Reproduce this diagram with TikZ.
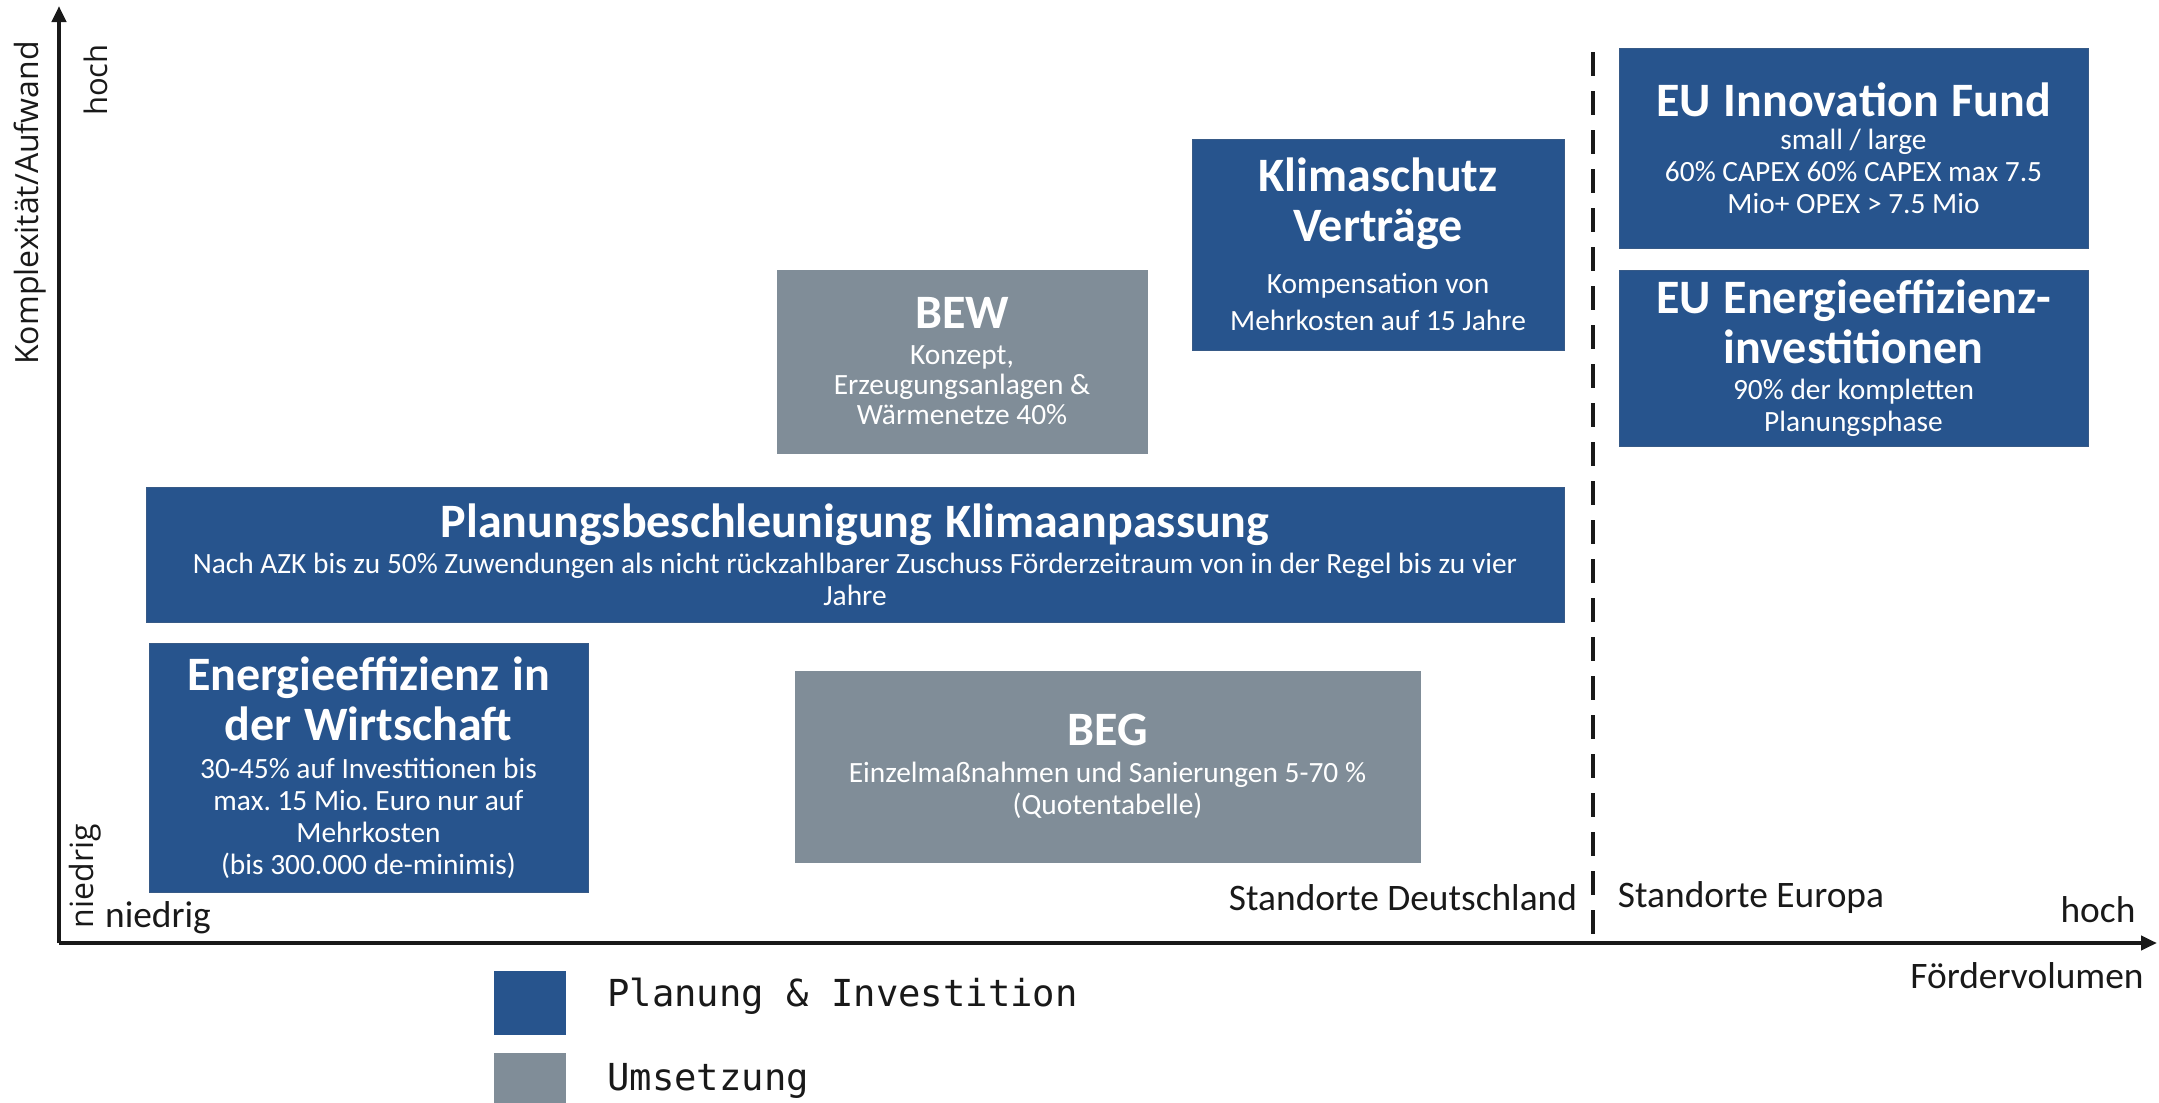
\documentclass[tikz,border=0pt]{standalone}
\usepackage{fontspec}
\setmainfont{Carlito}
\newfontfamily\axisfont{Open Sans}
\newfontfamily\legfont{DejaVu Sans Mono}
\usetikzlibrary{arrows.meta}
\definecolor{boxblue}{RGB}{39,84,141}
\definecolor{boxblueedge}{RGB}{55,90,135}
\definecolor{boxgray}{RGB}{128,141,152}
\definecolor{axisblack}{RGB}{25,25,25}
\frenchspacing
\newcommand\ttl{\fontsize{24}{25}\selectfont\bfseries\spaceskip=0.27em\relax\lineskiplimit=-100pt\relax}
\newcommand\bdy{\normalfont\fontsize{14.7}{16}\selectfont\spaceskip=\fontdimen2\font\relax\lineskiplimit=-100pt\relax}
\newcommand\bdyl{\normalfont\fontsize{14.7}{18.6}\selectfont\spaceskip=\fontdimen2\font\relax\lineskiplimit=-100pt\relax}
\newcommand\bdys{\normalfont\fontsize{14.7}{15}\selectfont\spaceskip=\fontdimen2\font\relax\lineskiplimit=-100pt\relax}
\tikzset{
  box/.style={rectangle, inner sep=0pt, align=center, text=white, line width=0.5pt},
  bluebox/.style={box, fill=boxblue, draw=boxblueedge},
  graybox/.style={box, fill=boxgray, draw=boxgray},
  axisline/.style={draw=axisblack, line width=2pt, -{Triangle[length=8pt,width=7pt]}},
  sepline/.style={draw=axisblack, line width=2.2pt, dash pattern=on 12pt off 7.5pt},
  lbl/.style={inner sep=0pt, text=axisblack, font=\fontsize{18.7}{22}\selectfont},
  vlbl/.style={inner sep=0pt, text=axisblack, rotate=90, font=\axisfont\fontsize{16}{18}\selectfont},
  leg/.style={inner sep=0pt, text=axisblack, anchor=west, font=\legfont\fontsize{18.6}{22}\selectfont},
}
\begin{document}
\begin{tikzpicture}[x=0.5pt,y=-0.5pt]
\useasboundingbox (0,0) rectangle (2159,1103);
% axes
\coordinate (origin) at (59,943);
\coordinate (ytip) at (59,6);
\coordinate (xtip) at (2157,943);
\draw[axisline] (origin) -- (ytip);
\draw[axisline] (origin) -- (xtip);
\coordinate (dtop) at (1593,52);
\coordinate (dbot) at (1593,934);
\draw[sepline] (dtop) -- (dbot);
% axis labels
\node[vlbl] (ylab) at (30,203) {Komplexität/Aufwand};
\node[vlbl, font=\axisfont\fontsize{15.5}{18}\selectfont] (yhoch) at (96,80) {hoch};
\node[vlbl] (yniedrig) at (85,876) {niedrig};
\node[lbl] (xniedrig) at (158,918) {niedrig};
\node[lbl] (xhoch) at (2098,910) {hoch};
\node[lbl] (xlab) at (2027,976) {Fördervolumen};
\node[lbl] (de) at (1403,898) {Standorte Deutschland};
\node[lbl] (eu) at (1751,898) {Standorte Europa};
% boxes
\node[bluebox, minimum width=234.5pt, minimum height=100pt, text width=230pt] (euif) at (1853.5,148)
  {\ttl EU Innovation Fund\par\vspace{0.5pt}\bdy small / large\\ 60\% CAPEX 60\% CAPEX max 7.5\\ Mio+ OPEX > 7.5 Mio\par};
\node[bluebox, minimum width=234.5pt, minimum height=88pt, text width=230pt] (euee) at (1853.5,358)
  {\ttl EU Energieeffizienz-\\ investitionen\par\vspace{2pt}\bdy 90\% der kompletten\\ Planungsphase\par};
\node[bluebox, minimum width=186pt, minimum height=105.5pt, text width=182pt] (klima) at (1378,244.5)
  {\ttl Klimaschutz\\ Verträge\par\vspace{7.4pt}\bdyl Kompensation von\\ Mehrkosten auf 15 Jahre\par};
\node[graybox, minimum width=185pt, minimum height=91.5pt, text width=181pt] (bew) at (962,361.5)
  {\ttl BEW\par\vspace{3pt}\bdys Konzept,\\ Erzeugungsanlagen \&\\ Wärmenetze 40\%\par};
\node[bluebox, minimum width=709pt, minimum height=67.5pt, text width=705pt] (plan) at (855,554.5)
  {\ttl Planungsbeschleunigung Klimaanpassung\par\vspace{2pt}\bdy Nach AZK bis zu 50\% Zuwendungen als nicht rückzahlbarer Zuschuss Förderzeitraum von in der Regel bis zu vier\\ Jahre\par};
\node[bluebox, minimum width=219.5pt, minimum height=124.5pt, text width=215pt] (eiw) at (368.5,767.5)
  {\ttl Energieeffizienz in\\ der Wirtschaft\par\vspace{3pt}\bdy 30-45\% auf Investitionen bis\\ max. 15 Mio. Euro nur auf\\ Mehrkosten\\ (bis 300.000 de-minimis)\par};
\node[graybox, minimum width=312.5pt, minimum height=95.5pt, text width=308pt] (beg) at (1107.5,766.5)
  {\ttl BEG\par\vspace{2.6pt}\bdy Einzelmaßnahmen und Sanierungen 5-70 \%\\ (Quotentabelle)\par};
% legend
\node[rectangle, fill=boxblue, inner sep=0pt, minimum width=36pt, minimum height=32pt] (legblue) at (530,1003) {};
\node[rectangle, fill=boxgray, inner sep=0pt, minimum width=36pt, minimum height=32pt] (leggray) at (530,1085) {};
\node[leg] (legbluet) at (607,996) {Planung \& Investition};
\node[leg] (leggrayt) at (607,1081) {Umsetzung};
\end{tikzpicture}
\end{document}
